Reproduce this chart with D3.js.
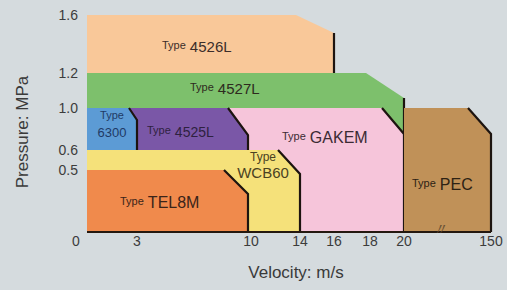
<!DOCTYPE html>
<html>
<head>
<meta charset="utf-8">
<script src="https://cdn.jsdelivr.net/npm/d3@7"></script>
<style>
  html, body { margin: 0; padding: 0; background: #d5dbde; }
  svg { display: block; font-family: "Liberation Sans", Arial, sans-serif; }
</style>
</head>
<body>
<svg id="chart"></svg>
<script>
var width = 507, height = 290;
var svg = d3.select("#chart").attr("width", width).attr("height", height);

// valve types, drawn back to front
var types = ["4526L", "4527L", "GAKEM", "4525L", "6300", "WCB60", "TEL8M", "PEC"];
var velFrom = [0, 0, 0, 0, 0, 0, 0, 20];
var velTo = [16, 20, 20, 10, 3, 14, 10, 150];
var pressMax = [1.6, 1.2, 1.0, 1.0, 1.0, 0.6, 0.5, 1.0];

var xTicks = [3, 10, 14, 16, 18, 20, 150];
var yTicks = [0.5, 0.6, 1.0, 1.2, 1.6];

// the axes are not uniform in the original, so use piecewise scales
var x = d3.scaleLinear()
  .domain([0, 3, 10, 14, 16, 18, 20, 150])
  .range([87, 137, 248, 300, 334, 370, 404, 491]);
var y = d3.scaleLinear()
  .domain([0, 0.5, 0.6, 1.0, 1.2, 1.6])
  .range([232, 170, 150, 108, 73, 15]);

var fills = ["#f9c899", "#7dc06c", "#f6c5da", "#7a57a7", "#5c9bd5", "#f5e17a", "#f08a4c", "#c09158"];
var textCol = ["#3b2d2a", "#2e2a1e", "#3b2b33", "#2e2140", "#1f3a66", "#4a4222", "#3a2419", "#2d2214"];
// corner cut [dx, dy] in px, and whether the cut edge is dark
var cuts = [[38, 18, false], [38, 25, false], [22, 26, true], [20, 27, true], [8, 12, true], [22, 24, true], [24, 24, true], [23, 26, true]];

var boxes = types.map(function (t, i) {
  return { name: t, v0: velFrom[i], v1: velTo[i], p: pressMax[i], i: i };
});

function shape(d) {
  var x0 = x(d.v0), x1 = x(d.v1), top = y(d.p), bot = y(0);
  var c = cuts[d.i];
  return [[x0, bot], [x0, top], [x1 - c[0], top], [x1, top + c[1]], [x1, bot]];
}

var g = svg.selectAll("g.box")
  .data(boxes)
  .enter().append("g")
  .attr("class", "box");

g.append("polygon")
  .attr("points", function (d) { return shape(d).join(" "); })
  .attr("fill", function (d) { return fills[d.i]; });

// dark right edge (and dark corner cut for most types)
g.append("path")
  .attr("fill", "none")
  .attr("stroke", "#1d1410")
  .attr("stroke-width", 2.2)
  .attr("d", function (d) {
    var p = shape(d);
    if (cuts[d.i][2]) return d3.line()([p[2], p[3], p[4]]);
    return d3.line()([p[3], p[4]]);
  });

// baseline
svg.append("line")
  .attr("x1", x(0)).attr("x2", x(150))
  .attr("y1", y(0)).attr("y2", y(0))
  .attr("stroke", "#24180f")
  .attr("stroke-width", 2.2);

// axis break mark on the PEC span
svg.append("text")
  .attr("x", 439).attr("y", 235)
  .attr("text-anchor", "middle")
  .attr("font-size", 17)
  .attr("fill", "#6a5236")
  .attr("font-style", "italic")
  .text("〃");

// labels: small "Type" then the name
var labelPos = {
  "4526L": { x: 162, y: 52, size: 15 },
  "4527L": { x: 190, y: 94, size: 15 },
  "GAKEM": { x: 282, y: 143, size: 16 },
  "4525L": { x: 147, y: 137, size: 14 },
  "TEL8M": { x: 120, y: 208, size: 16 },
  "PEC":   { x: 412, y: 190, size: 16 }
};
boxes.forEach(function (d) {
  var lp = labelPos[d.name];
  if (!lp) return;
  var t = svg.append("text")
    .attr("x", lp.x).attr("y", lp.y)
    .attr("fill", textCol[d.i]);
  t.append("tspan").attr("font-size", 11).attr("dy", -3).text("Type");
  t.append("tspan").attr("font-size", lp.size).attr("dx", 4).attr("dy", 3).text(d.name);
});

// two-line labels
var stacked = { "6300": { x: 112, y1: 119, y2: 137, s1: 11, s2: 13 },
                "WCB60": { x: 263, y1: 161, y2: 178, s1: 12, s2: 15 } };
boxes.forEach(function (d) {
  var sp = stacked[d.name];
  if (!sp) return;
  svg.append("text").attr("x", sp.x).attr("y", sp.y1)
    .attr("text-anchor", "middle").attr("font-size", sp.s1)
    .attr("fill", textCol[d.i]).text("Type");
  svg.append("text").attr("x", sp.x).attr("y", sp.y2)
    .attr("text-anchor", "middle").attr("font-size", sp.s2)
    .attr("fill", textCol[d.i]).text(d.name);
});

// tick labels
svg.selectAll("text.xt")
  .data(xTicks)
  .enter().append("text")
  .attr("class", "xt")
  .attr("x", function (d) { return x(d) + (d == 10 ? 3 : 0); })
  .attr("y", 246)
  .attr("text-anchor", "middle")
  .attr("font-size", 14)
  .attr("fill", "#3c3c3c")
  .text(function (d) { return d; });

svg.selectAll("text.yt")
  .data(yTicks)
  .enter().append("text")
  .attr("class", "yt")
  .attr("x", 78)
  .attr("y", function (d) { return y(d); })
  .attr("dy", "0.35em")
  .attr("text-anchor", "end")
  .attr("font-size", 14)
  .attr("fill", "#3c3c3c")
  .text(function (d) { return d.toFixed(1); });

svg.append("text")
  .attr("x", 76).attr("y", 246)
  .attr("text-anchor", "middle")
  .attr("font-size", 14)
  .attr("fill", "#3c3c3c")
  .text("0");

// axis titles
svg.append("text")
  .attr("transform", "translate(28,132) rotate(-90)")
  .attr("text-anchor", "middle")
  .attr("font-size", 17)
  .attr("fill", "#3a3a3a")
  .text("Pressure: MPa");

svg.append("text")
  .attr("x", 296).attr("y", 278)
  .attr("text-anchor", "middle")
  .attr("font-size", 17)
  .attr("fill", "#3a3a3a")
  .text("Velocity: m/s");
</script>
</body>
</html>
